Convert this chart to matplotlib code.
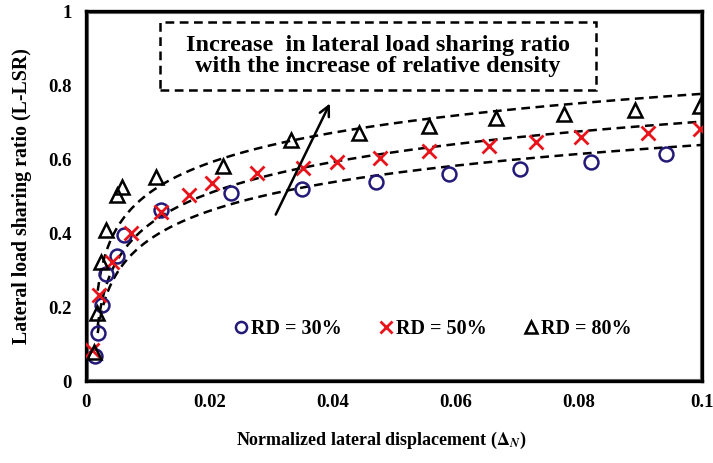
import numpy as np
import matplotlib.pyplot as plt
from matplotlib.patches import Rectangle

plt.rcParams['font.family'] = 'Liberation Serif'
plt.rcParams['font.weight'] = 'bold'
plt.rcParams['mathtext.fontset'] = 'stix'

# RD = 30 %
x30 = [0.0015, 0.0020, 0.0026, 0.0032, 0.0051, 0.0062, 0.0121, 0.0235, 0.0351,
       0.0470, 0.0589, 0.0704, 0.0819, 0.0941]
y30 = [0.068, 0.131, 0.205, 0.289, 0.338, 0.395, 0.462, 0.509, 0.519,
       0.537, 0.559, 0.572, 0.591, 0.614]
# RD = 50 %
x50 = [0.0010, 0.0021, 0.0042, 0.0073, 0.0121, 0.0167, 0.0204, 0.0278, 0.0352,
       0.0408, 0.0477, 0.0557, 0.0655, 0.0731, 0.0803, 0.0913, 0.0997]
y50 = [0.084, 0.232, 0.322, 0.399, 0.458, 0.503, 0.534, 0.563, 0.575,
       0.593, 0.604, 0.622, 0.636, 0.645, 0.659, 0.671, 0.680]
# RD = 80 %
x80 = [0.0013, 0.0018, 0.0024, 0.0032, 0.0051, 0.0058, 0.0113, 0.0223, 0.0332,
       0.0443, 0.0557, 0.0666, 0.0776, 0.0891, 0.0997]
y80 = [0.079, 0.183, 0.322, 0.408, 0.503, 0.525, 0.552, 0.582, 0.651,
       0.669, 0.689, 0.710, 0.722, 0.732, 0.743]

# trend lines y = a*ln(x - c) + b
trend_a = [0.1082, 0.1174, 0.1132]
trend_b = [0.8883, 0.9726, 1.038]
trend_c = 0.001
trend_x0 = 0.0019
trend_x1 = 0.1

fig = plt.figure(figsize=(7.13, 4.63), dpi=100)
ax = fig.add_axes([0.1206, 0.1771, 0.864, 0.7991])

xt = np.linspace(trend_x0, trend_x1, 300)
for a, b in zip(trend_a, trend_b):
    ax.plot(xt, a * np.log(xt - trend_c) + b, color='black', lw=1.8,
            dashes=(3.5, 2.2), zorder=2)

ax.plot(x30, y30, 'o', ms=10, mfc='none', mec='#231a78', mew=1.8, ls='none',
        label='RD = 30%', zorder=3)
ax.plot(x50, y50, 'x', ms=10, color='#e8141c', mew=2.0, ls='none',
        label='RD = 50%', zorder=3)
ax.plot(x80, y80, '^', ms=10, mfc='none', mec='black', mew=1.8, ls='none',
        label='RD = 80%', zorder=3)

ax.annotate('', xy=(0.0398, 0.757), xytext=(0.0306, 0.443),
            arrowprops=dict(arrowstyle='->', lw=1.8, color='black',
                            mutation_scale=18))

ax.add_patch(Rectangle((0.120, 0.786), 0.708, 0.184, transform=ax.transAxes,
                       fill=False, ec='black', lw=1.8, ls=(0, (3.5, 2.2))))
ax.text(0.474, 0.879, 'Increase  in lateral load sharing ratio\nwith the increase of relative density',
        transform=ax.transAxes, ha='center', va='center', fontsize=17.5,
        fontweight='bold', linespacing=1.0)

leg = ax.legend(loc='center', bbox_to_anchor=(0.562, 0.14), ncol=3,
                frameon=False, fontsize=14.5, handlelength=0.8,
                handletextpad=0.1, columnspacing=1.8, markerscale=0.8)

ax.set_xlim(0, 0.1)
ax.set_ylim(0, 1)
ax.set_xticks([0, 0.02, 0.04, 0.06, 0.08, 0.1])
ax.set_xticklabels(['0', '0.02', '0.04', '0.06', '0.08', '0.1'])
ax.set_yticks([0, 0.2, 0.4, 0.6, 0.8, 1])
ax.set_yticklabels(['0', '0.2', '0.4', '0.6', '0.8', '1'])
ax.tick_params(axis='x', length=0, labelsize=13.5, pad=9)
ax.tick_params(axis='y', length=0, labelsize=13.5, pad=10)
for lab in ax.get_xticklabels() + ax.get_yticklabels():
    lab.set_fontweight('bold')
for sp in ax.spines.values():
    sp.set_linewidth(2.4)
ax.add_patch(Rectangle((0.004, 0.006), 0.992, 0.988, transform=ax.transAxes,
                       fill=False, ec='#777777', lw=0.8))

ax.set_xlabel(r'Normalized lateral displacement ($\Delta_N$)', fontsize=13,
              fontweight='bold', labelpad=14)
ax.xaxis.label.set_x(0.48)
ax.set_ylabel('Lateral load sharing ratio (L-LSR)', fontsize=14.3,
              fontweight='bold', labelpad=12)

fig.savefig('out.png', dpi=100)
